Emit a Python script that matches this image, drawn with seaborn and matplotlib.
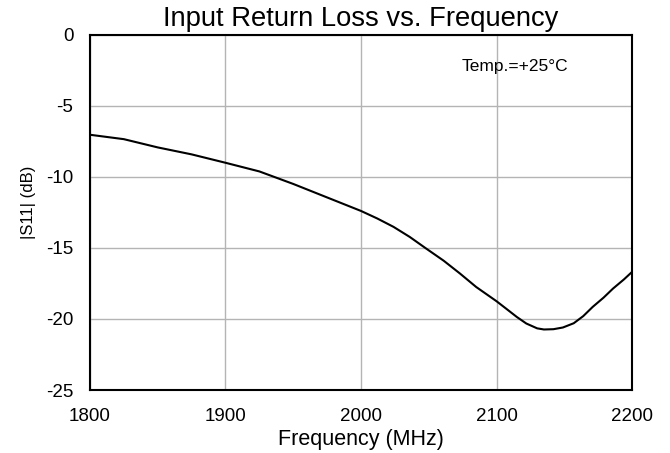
import matplotlib
matplotlib.use("Agg")
import matplotlib.pyplot as plt
import seaborn as sns
import pandas as pd

# Measured input return loss at +25 C
freq_mhz = [1800, 1825, 1850, 1875, 1900, 1925, 1950, 1975, 2000, 2012, 2024,
            2036, 2048, 2061, 2073, 2085, 2100, 2108, 2115, 2122, 2130, 2135,
            2142, 2149, 2157, 2164, 2171, 2179, 2186, 2194, 2200]
s11_db = [-7.04, -7.35, -7.93, -8.42, -9.01, -9.62, -10.5, -11.45, -12.4, -12.93,
          -13.52, -14.23, -15.04, -15.9, -16.8, -17.75, -18.75, -19.34, -19.86,
          -20.32, -20.66, -20.74, -20.72, -20.6, -20.3, -19.8, -19.15, -18.5,
          -17.86, -17.22, -16.69]

x_ticks = [1800, 1900, 2000, 2100, 2200]
y_ticks = [0, -5, -10, -15, -20, -25]

df = pd.DataFrame({"freq": freq_mhz, "s11": s11_db})

sns.set_style("white")
plt.rcParams["font.family"] = ["Liberation Sans", "DejaVu Sans"]
plt.rcParams["text.color"] = "black"
plt.rcParams["axes.labelcolor"] = "black"
plt.rcParams["xtick.color"] = "black"
plt.rcParams["ytick.color"] = "black"

fig = plt.figure(figsize=(6.7, 4.53), dpi=100)
ax = fig.add_axes([0.1343, 0.139, 0.8090, 0.7844])

sns.lineplot(data=df, x="freq", y="s11", ax=ax, color="black", linewidth=1.5)

ax.set_xlim(1800, 2200)
ax.set_ylim(-25, 0)
ax.set_xticks(x_ticks)
ax.set_yticks(y_ticks)
ax.set_xticklabels([str(v) for v in x_ticks], fontsize=13.5)
ax.set_yticklabels([str(v) for v in y_ticks], fontsize=13.5)
ax.tick_params(axis="x", length=0, pad=13)
ax.tick_params(axis="y", length=0, pad=12)

ax.grid(True, color="#b4b4b4", linewidth=1.0)
for s in ax.spines.values():
    s.set_visible(True)
    s.set_color("black")
    s.set_linewidth(1.5)

ax.set_xlabel("Frequency (MHz)", fontsize=15.5, labelpad=3)
ax.set_ylabel("|S11| (dB)", fontsize=12)
ax.yaxis.set_label_coords(-0.1005, 0.527)
ax.set_title("Input Return Loss vs. Frequency", fontsize=19.7, pad=6)

ax.text(2113.6, -2.25, "Temp.=+25°C", fontsize=12.5, ha="center", va="center")

fig.savefig("out.png", dpi=100)
